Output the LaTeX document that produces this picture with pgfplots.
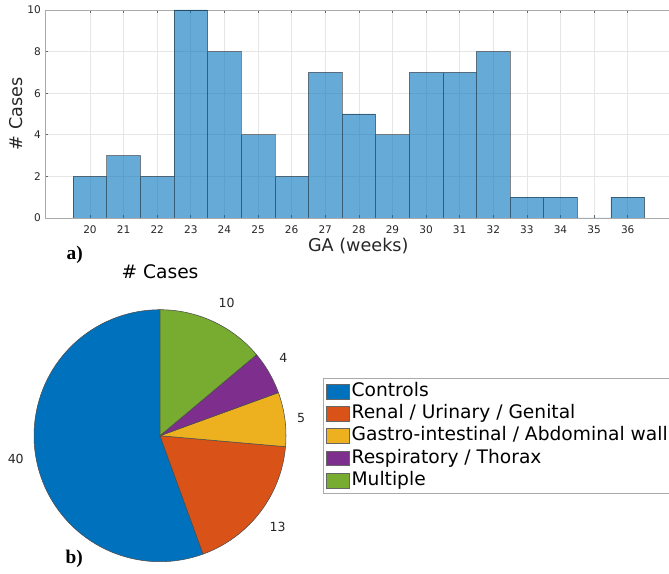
\documentclass[border=0pt]{standalone}
\usepackage{pgfplots}
\pgfplotsset{compat=1.18}
\usepackage{fontspec}
\setmainfont{DejaVu Sans}
\newfontfamily\labelserif{Liberation Serif}

\definecolor{mblue}{RGB}{0,114,189}
\definecolor{morange}{RGB}{217,83,25}
\definecolor{myellow}{RGB}{237,177,32}
\definecolor{mpurple}{RGB}{126,47,142}
\definecolor{mgreen}{RGB}{119,172,48}
\definecolor{axisgray}{RGB}{170,170,170}
\definecolor{gridgray}{RGB}{230,230,230}
\definecolor{textdark}{RGB}{38,38,38}

% pie values (Controls, Renal, Gastro, Respiratory, Multiple)
\def\vA{40}\def\vB{13}\def\vC{5}\def\vD{4}\def\vE{10}

\begin{document}
\begin{tikzpicture}
\pgfmathsetmacro\tot{\vA+\vB+\vC+\vD+\vE}
\pgfmathsetmacro\aO{90}
\pgfmathsetmacro\aI{\aO+360*\vA/\tot}
\pgfmathsetmacro\aII{\aI+360*\vB/\tot}
\pgfmathsetmacro\aIII{\aII+360*\vC/\tot}
\pgfmathsetmacro\aIV{\aIII+360*\vD/\tot}
\pgfmathsetmacro\aV{\aIV+360*\vE/\tot}

\clip (0pt,0pt) rectangle (501.75pt,-430.5pt);

% histogram of gestational age
\begin{axis}[
  at={(33.75pt,-163.5pt)}, anchor=south west,
  scale only axis, width=472.5pt, height=156pt,
  xmin=18.661, xmax=37.407, ymin=0, ymax=10,
  xtick={20,...,36}, ytick={0,2,...,10},
  grid=major,
  major grid style={draw=gridgray, line width=0.5pt},
  axis line style={draw=axisgray, line width=0.6pt},
  tick style={draw=textdark!70, line width=0.5pt},
  major tick length=2.6pt,
  tick align=inside,
  /pgf/number format/assume math mode=true,
  tick label style={font=\fontsize{7.9}{9}\selectfont, text=textdark},
  xticklabel style={anchor=center, yshift=-8.4pt},
  yticklabel style={anchor=east, inner sep=0pt, xshift=-3pt},
  xlabel={GA (weeks)},
  ylabel={\# Cases},
  label style={font=\fontsize{13.2}{15}\selectfont, text=textdark},
  xlabel style={at={(axis description cs:0.4973,-0.136)}, anchor=center},
  ylabel style={at={(axis description cs:-0.046,0.5)}, anchor=center},
]
\addplot[ybar, bar width=1, bar shift=0pt,
  fill=mblue, fill opacity=0.6, draw=black, draw opacity=0.45, line width=0.5pt]
  coordinates {
  (20,2) (21,3) (22,2) (23,10) (24,8) (25,4) (26,2) (27,7) (28,5)
  (29,4) (30,7) (31,7) (32,8) (33,1) (34,1) (35,0) (36,1)
  };
\end{axis}

% pie chart of case categories
\begin{axis}[
  at={(0pt,-430.5pt)}, anchor=south west,
  scale only axis, width=501.75pt, height=243pt,
  xmin=-1.2698, xmax=4.0397, ymin=-1.0976, ymax=1.4738,
  hide axis, clip=false,
  legend style={
    at={(0.4833,0.604)}, anchor=north west,
    draw=axisgray, line width=0.6pt, fill=white,
    font=\fontsize{14}{16.7}\selectfont, text=black,
    inner xsep=1.6pt, inner ysep=1.2pt, row sep=0pt,
    nodes={inner xsep=1.2pt, inner ysep=1.5pt, text height=10.6pt, text depth=3.1pt},
  },
  legend cell align=left,
  legend image code/.code={
    \draw[#1, draw=black!60, line width=0.4pt] (0pt,-5.6pt) rectangle (17.7pt,5.6pt);
  },
]
\addplot[fill=mblue, draw=black!70, line width=0.4pt, domain=\aO:\aI, samples=80, variable=\t]
  ({cos(\t)},{sin(\t)}) -- (axis cs:0,0) -- cycle;
\addlegendentry{Controls}
\addplot[fill=morange, draw=black!70, line width=0.4pt, domain=\aI:\aII, samples=40, variable=\t]
  ({cos(\t)},{sin(\t)}) -- (axis cs:0,0) -- cycle;
\addlegendentry{Renal / Urinary / Genital}
\addplot[fill=myellow, draw=black!70, line width=0.4pt, domain=\aII:\aIII, samples=20, variable=\t]
  ({cos(\t)},{sin(\t)}) -- (axis cs:0,0) -- cycle;
\addlegendentry{Gastro-intestinal / Abdominal wall}
\addplot[fill=mpurple, draw=black!70, line width=0.4pt, domain=\aIII:\aIV, samples=20, variable=\t]
  ({cos(\t)},{sin(\t)}) -- (axis cs:0,0) -- cycle;
\addlegendentry{Respiratory / Thorax}
\addplot[fill=mgreen, draw=black!70, line width=0.4pt, domain=\aIV:\aV, samples=30, variable=\t]
  ({cos(\t)},{sin(\t)}) -- (axis cs:0,0) -- cycle;
\addlegendentry{Multiple}

\node[font=\fontsize{14}{16}\selectfont, text=black] at (axis cs:0,1.3016) {\# Cases};
\begin{scope}[every node/.style={font=\fontsize{9.4}{11}\selectfont, text=textdark}]
\node at (axis cs:-1.145,-0.187) {\vA};
\node at (axis cs:0.934,-0.727) {\vB};
\node at (axis cs:1.119,0.143) {\vC};
\node at (axis cs:0.979,0.614) {\vD};
\node at (axis cs:0.529,1.056) {\vE};
\end{scope}
\end{axis}

\node[font=\labelserif\bfseries\fontsize{14.5}{16}\selectfont] at (56pt,-191.5pt) {a)};
\node[font=\labelserif\bfseries\fontsize{14.5}{16}\selectfont] at (55.7pt,-419.2pt) {b)};
\end{tikzpicture}
\end{document}
